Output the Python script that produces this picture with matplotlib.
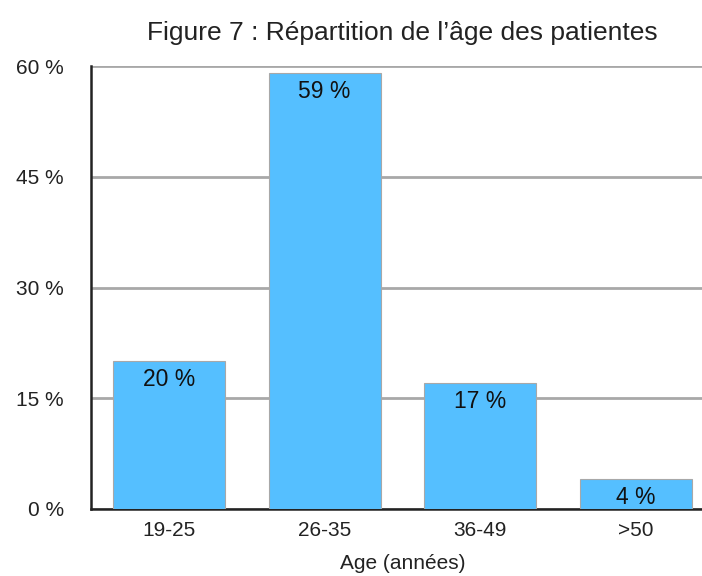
import matplotlib.pyplot as plt

plt.rcParams['font.family'] = ['Liberation Sans', 'DejaVu Sans']

categories = ['19-25', '26-35', '36-49', '>50']
percents = [20, 59, 17, 4]
y_ticks = [0, 15, 30, 45, 60]

fig = plt.figure(figsize=(7.02, 5.76), dpi=100)
# axes runs past the right edge, like the cropped original
ax = fig.add_axes([91 / 702, 67 / 576, 623 / 702, 443 / 576])

x = range(len(categories))
bars = ax.bar(x, percents, width=0.72, color='#55BFFF', edgecolor='#A8A8A8',
              linewidth=0.8, zorder=3)

for b, v in zip(bars, percents):
    ax.text(b.get_x() + b.get_width() / 2, v - 0.9, f'{v} %', ha='center',
            va='top', fontsize=16.5, color='#111111', zorder=4)

ax.set_ylim(0, 60)
ax.set_xlim(-0.5, len(categories) - 0.5)
ax.set_yticks(y_ticks)
ax.set_yticklabels([f'{t} %' for t in y_ticks])
ax.set_xticks(list(x))
ax.set_xticklabels(categories)
ax.tick_params(axis='both', length=0, labelsize=15, colors='#222222')
ax.tick_params(axis='y', pad=19.5)
ax.tick_params(axis='x', pad=9)

ax.yaxis.grid(True, color='#A8A8A8', linewidth=2, zorder=0)
ax.set_axisbelow(True)
for s in ['top', 'right']:
    ax.spines[s].set_visible(False)
ax.spines['left'].set_linewidth(1.8)
ax.spines['bottom'].set_linewidth(1.8)
ax.spines['left'].set_color('#222222')
ax.spines['bottom'].set_color('#222222')

# keep the label inside the frame (the original is clipped at the bottom)
ax.set_xlabel('Age (années)', fontsize=15, color='#222222', labelpad=10)
ax.set_title('Figure 7 : Répartition de l\u2019âge des patientes', fontsize=19,
             color='#222222', pad=19)

fig.savefig('out.png', dpi=100)
